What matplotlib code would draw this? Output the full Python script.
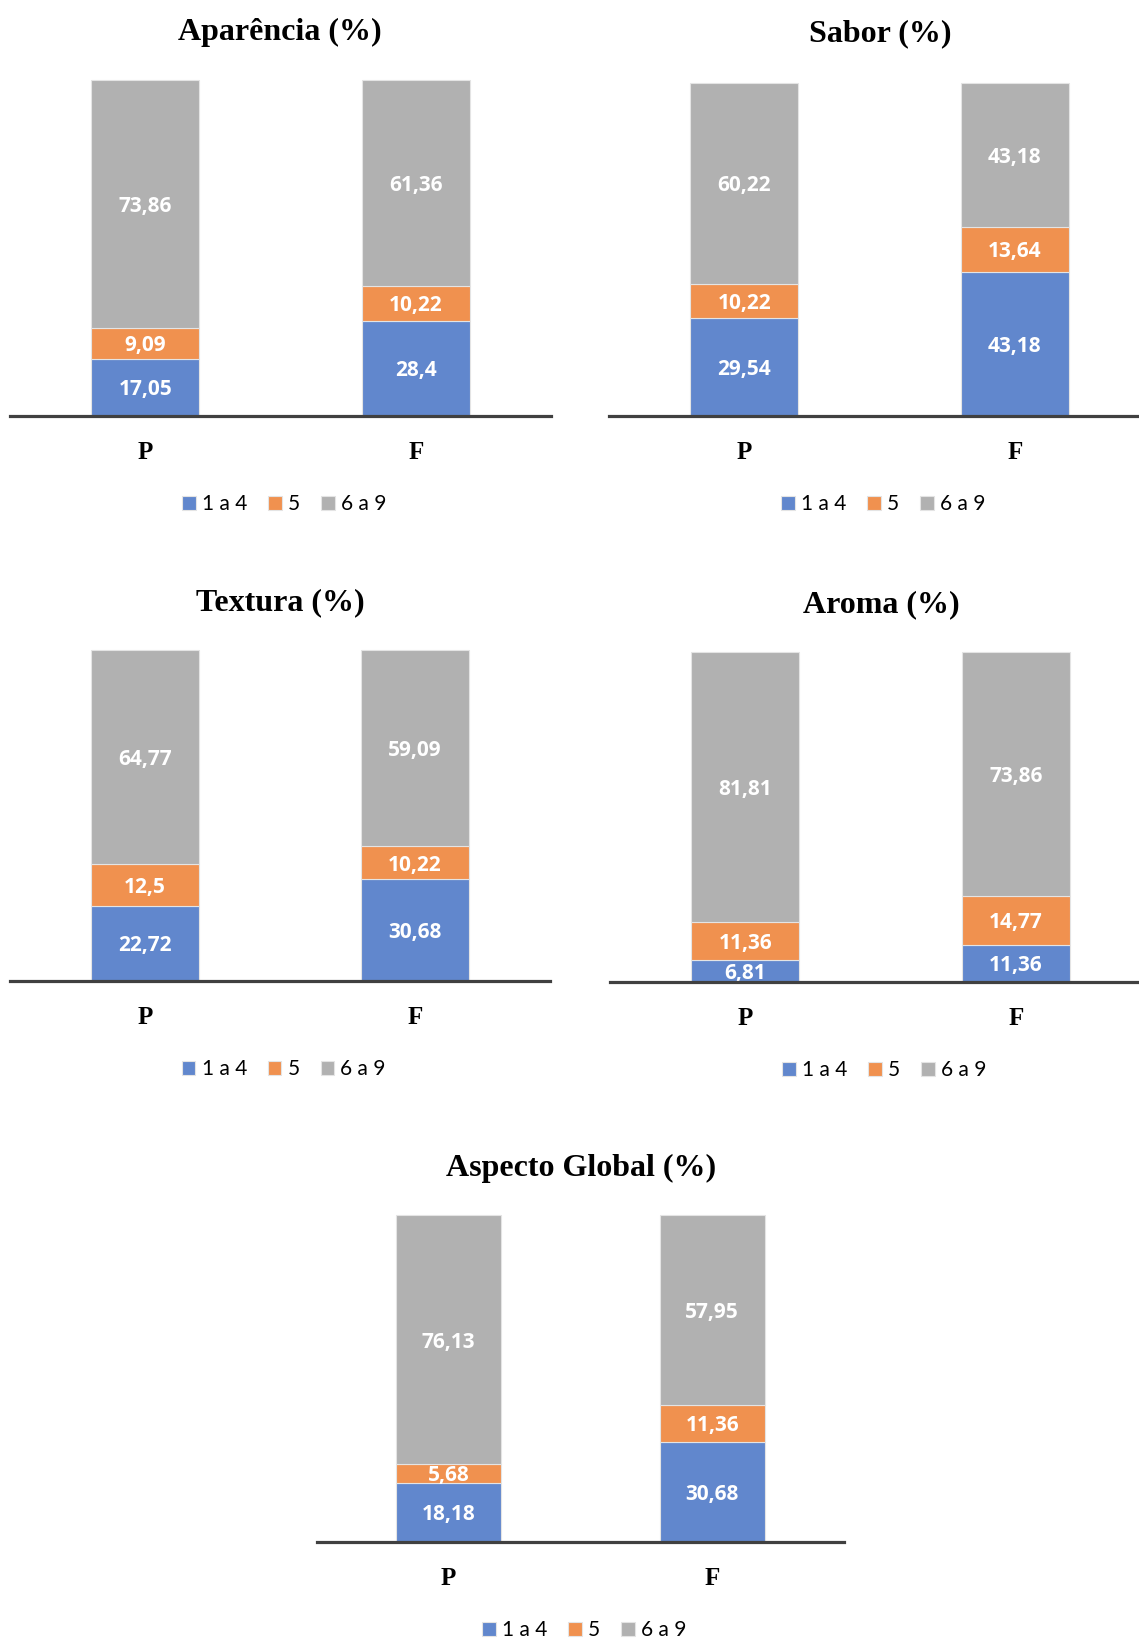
import matplotlib.pyplot as plt

# data
cats = ['P', 'F']
series = ['1 a 4', '5', '6 a 9']
colors = ['#6187CD', '#F0914F', '#B1B1B1']

titles = ['Aparência (%)', 'Sabor (%)', 'Textura (%)', 'Aroma (%)', 'Aspecto Global (%)']
low = [[17.05, 28.4], [29.54, 43.18], [22.72, 30.68], [6.81, 11.36], [18.18, 30.68]]
mid = [[9.09, 10.22], [10.22, 13.64], [12.5, 10.22], [11.36, 14.77], [5.68, 11.36]]
high = [[73.86, 61.36], [60.22, 43.18], [64.77, 59.09], [81.81, 73.86], [76.13, 57.95]]

W, H = 1139, 1639
# axes boxes in pixels: left, right, bottom (axis line), top (100%)
boxes = [(10, 551, 416, 80), (609, 1150, 416, 83), (10, 550, 981, 650),
         (610, 1151, 982, 652), (317, 844, 1542, 1215)]
title_pos = [(280, 32), (880, 34), (280, 603), (881, 605), (581, 1168)]

fig = plt.figure(figsize=(W / 100, H / 100), dpi=100)


def fmt(v):
    s = ('%.2f' % v).rstrip('0').rstrip('.')
    return s.replace('.', ',')


for i in range(5):
    l, r, b, t = boxes[i]
    ax = fig.add_axes([l / W, 1 - b / H, (r - l) / W, (b - t) / H])
    ax.set_xlim(-0.5, 1.5)
    ax.set_ylim(0, 100)
    bottom = [0, 0]
    for vals, c, name in zip([low[i], mid[i], high[i]], colors, series):
        bars = ax.bar(range(2), vals, 0.4, bottom=bottom, color=c, label=name,
                      edgecolor='#E4E4E4', linewidth=0.8, clip_on=False)
        for bar, v in zip(bars, vals):
            ax.text(bar.get_x() + bar.get_width() / 2, bar.get_y() + v / 2, fmt(v),
                    ha='center', va='center_baseline', color='white', fontsize=15,
                    fontweight='bold', family='Open Sans')
        bottom = [bottom[0] + vals[0], bottom[1] + vals[1]]
    for s in ['top', 'right', 'left']:
        ax.spines[s].set_visible(False)
    ax.spines['bottom'].set_color('#404040')
    ax.spines['bottom'].set_linewidth(2.3)
    ax.spines['bottom'].set_zorder(5)
    ax.set_yticks([])
    ax.set_xticks(range(2), cats)
    ax.tick_params(axis='x', length=0, pad=18)
    for lab in ax.get_xticklabels():
        lab.set_family('Liberation Serif')
        lab.set_fontweight('bold')
        lab.set_fontsize(18)
    ax.legend(loc='center', bbox_to_anchor=(0.507, -88 / (b - t)), ncol=3,
              frameon=False, prop={'family': 'Lato', 'size': 15},
              handlelength=0.65, handleheight=0.65, handletextpad=0.3,
              columnspacing=1.0)
    tx, ty = title_pos[i]
    fig.text(tx / W, 1 - ty / H, titles[i], ha='center', va='center',
             family='Liberation Serif', fontweight='bold', fontsize=23)

fig.savefig('out.png', dpi=100)
